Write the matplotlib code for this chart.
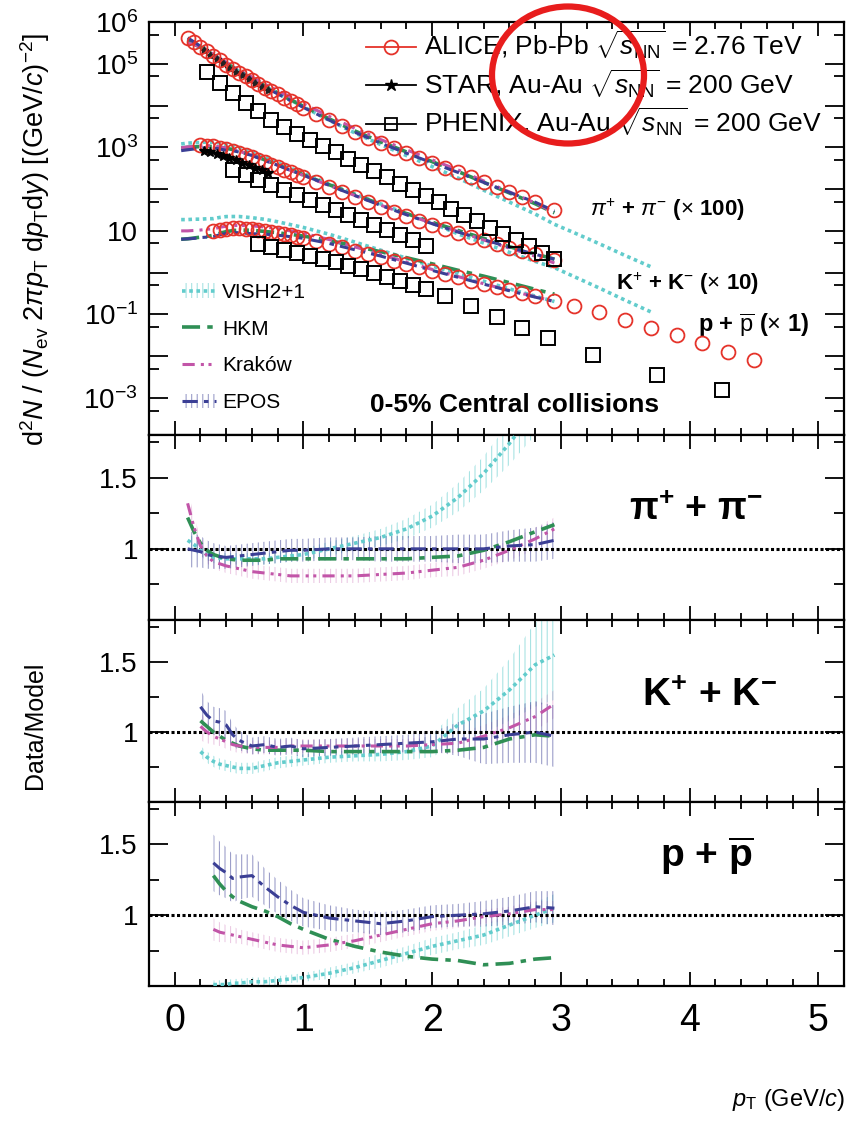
import numpy as np
import matplotlib
matplotlib.use("Agg")
import matplotlib.pyplot as plt
from matplotlib.lines import Line2D
from matplotlib.patches import Ellipse, Patch

plt.rcParams['font.family'] = ['Liberation Sans', 'DejaVu Sans']
plt.rcParams['mathtext.fontset'] = 'custom'
plt.rcParams['mathtext.rm'] = 'Liberation Sans'
plt.rcParams['mathtext.it'] = 'Liberation Sans:italic'
plt.rcParams['mathtext.bf'] = 'Liberation Sans:bold'
plt.rcParams['hatch.linewidth'] = 0.8

# ---------------- spectra (log10 of the plotted yield) ----------------
# ALICE Pb-Pb 2.76 TeV, pi (x100)
pi_pt = [0.1, 0.15, 0.2, 0.25, 0.3, 0.35, 0.4, 0.45, 0.5, 0.55, 0.6, 0.65, 0.7, 0.75,
         0.8, 0.85, 0.9, 0.95, 1.0, 1.1, 1.2, 1.3, 1.4, 1.5, 1.6, 1.7, 1.8, 1.9, 2.0,
         2.1, 2.2, 2.3, 2.4, 2.5, 2.6, 2.7, 2.8, 2.95]
pi_alice = [5.62, 5.52, 5.41, 5.30, 5.19, 5.08, 4.98, 4.88, 4.79, 4.70, 4.61, 4.52, 4.43, 4.35,
            4.27, 4.19, 4.11, 4.03, 3.95, 3.80, 3.65, 3.50, 3.36, 3.23, 3.10, 2.98, 2.86, 2.74, 2.63,
            2.51, 2.40, 2.28, 2.16, 2.05, 1.93, 1.82, 1.70, 1.50]
# kaons (x10)
k_pt = [0.2, 0.25, 0.3, 0.35, 0.4, 0.45, 0.5, 0.55, 0.6, 0.65, 0.7, 0.75, 0.8, 0.85, 0.9,
        0.95, 1.0, 1.1, 1.2, 1.3, 1.4, 1.5, 1.6, 1.7, 1.8, 1.9, 2.0, 2.1, 2.2, 2.3, 2.4,
        2.5, 2.6, 2.7, 2.8, 2.95]
k_alice = [3.05, 3.04, 3.02, 2.99, 2.95, 2.91, 2.86, 2.81, 2.76, 2.70, 2.64, 2.58, 2.52, 2.46, 2.40,
           2.34, 2.28, 2.16, 2.04, 1.92, 1.80, 1.68, 1.57, 1.46, 1.35, 1.24, 1.14, 1.04, 0.95, 0.86, 0.77,
           0.68, 0.60, 0.52, 0.44, 0.31]
# protons (x1)
p_pt = [0.3, 0.35, 0.4, 0.45, 0.5, 0.55, 0.6, 0.65, 0.7, 0.75, 0.8, 0.85, 0.9, 0.95, 1.0,
        1.1, 1.2, 1.3, 1.4, 1.5, 1.6, 1.7, 1.8, 1.9, 2.0, 2.1, 2.2, 2.3, 2.4, 2.5, 2.6,
        2.7, 2.8, 2.95, 3.1, 3.3, 3.5, 3.7, 3.9, 4.1, 4.3, 4.5]
p_alice = [1.00, 1.03, 1.05, 1.06, 1.06, 1.05, 1.04, 1.02, 1.00, 0.98, 0.95, 0.92, 0.89, 0.86, 0.83,
           0.76, 0.69, 0.61, 0.53, 0.45, 0.37, 0.29, 0.21, 0.13, 0.05, -0.03, -0.11, -0.19, -0.27, -0.35, -0.42,
           -0.49, -0.56, -0.67, -0.80, -0.95, -1.14, -1.33, -1.50, -1.69, -1.90, -2.10]

# STAR Au-Au 200 GeV
star_pt = [0.225, 0.275, 0.325, 0.375, 0.425, 0.475, 0.525, 0.575, 0.625, 0.675, 0.725]
star_pi = [5.33, 5.22, 5.11, 5.01, 4.91, 4.81, 4.72, 4.63, 4.54, 4.45, 4.37]
star_k = [2.92, 2.88, 2.84, 2.79, 2.74, 2.69, 2.63, 2.57, 2.51, 2.45, 2.39]

# PHENIX Au-Au 200 GeV
phx_pi_pt = [0.25, 0.35, 0.45, 0.55, 0.65, 0.75, 0.85, 0.95, 1.05, 1.15, 1.25, 1.35, 1.45, 1.55,
             1.65, 1.75, 1.85, 1.95, 2.05, 2.15, 2.25, 2.35, 2.45, 2.55, 2.65, 2.75, 2.85, 2.95]
phx_pi = [4.80, 4.55, 4.30, 4.07, 3.86, 3.66, 3.49, 3.33, 3.18, 3.03, 2.88, 2.73, 2.58, 2.43,
          2.28, 2.13, 1.98, 1.83, 1.68, 1.53, 1.38, 1.23, 1.08, 0.93, 0.78, 0.63, 0.48, 0.33]
phx_k_pt = [0.45, 0.55, 0.65, 0.75, 0.85, 0.95, 1.05, 1.15, 1.25, 1.35, 1.45, 1.55, 1.65, 1.75, 1.85, 1.95]
phx_k = [2.45, 2.33, 2.21, 2.09, 1.97, 1.85, 1.73, 1.61, 1.49, 1.37, 1.25, 1.13, 1.01, 0.89, 0.77, 0.65]
phx_p_pt = [0.65, 0.75, 0.85, 0.95, 1.05, 1.15, 1.25, 1.35, 1.45, 1.55, 1.65, 1.75, 1.85, 1.95,
            2.1, 2.3, 2.5, 2.7, 2.9, 3.25, 3.75, 4.25]
phx_p = [0.68, 0.62, 0.55, 0.48, 0.41, 0.33, 0.25, 0.17, 0.09, 0.0, -0.1, -0.2, -0.3, -0.4,
         -0.55, -0.8, -1.07, -1.33, -1.57, -1.98, -2.45, -2.81]

# ---------------- Data/Model ratios ----------------
models = ['VISH2+1', 'HKM', 'Krakow', 'EPOS']

pi_mpt = [0.1, 0.15, 0.2, 0.25, 0.3, 0.4, 0.5, 0.6, 0.7, 0.8, 0.9, 1.0, 1.2, 1.4, 1.6, 1.8,
          2.0, 2.2, 2.4, 2.6, 2.8, 2.95]
pi_vish = [1.06, 1.03, 0.99, 0.96, 0.94, 0.93, 0.93, 0.93, 0.93, 0.94, 0.95, 0.96, 1.0, 1.04, 1.08, 1.14,
           1.23, 1.36, 1.53, 1.74, 1.98, 2.2]
pi_hkm = [1.22, 1.12, 1.04, 0.99, 0.96, 0.93, 0.92, 0.92, 0.92, 0.93, 0.93, 0.93, 0.93, 0.93, 0.93, 0.93,
          0.94, 0.95, 0.99, 1.05, 1.12, 1.17]
pi_krakow = [1.32, 1.15, 1.02, 0.95, 0.91, 0.88, 0.86, 0.84, 0.83, 0.82, 0.81, 0.81, 0.81, 0.81, 0.82, 0.83,
             0.85, 0.87, 0.92, 0.99, 1.07, 1.14]
pi_epos = [1.0, 0.99, 0.98, 0.96, 0.95, 0.94, 0.95, 0.96, 0.97, 0.98, 0.99, 0.99, 1.0, 1.0, 1.0, 1.0,
           1.0, 1.0, 1.0, 1.02, 1.03, 1.06]
pi_epos_err = [0.13, 0.12, 0.11, 0.1, 0.09, 0.08, 0.08, 0.08, 0.08, 0.08, 0.08, 0.08, 0.08, 0.08, 0.09, 0.09,
               0.09, 0.1, 0.1, 0.11, 0.12, 0.13]
pi_vish_err = [0.05, 0.05, 0.04, 0.04, 0.04, 0.04, 0.04, 0.04, 0.04, 0.04, 0.04, 0.04, 0.05, 0.05, 0.06, 0.07,
               0.08, 0.1, 0.12, 0.15, 0.18, 0.2]
pi_krakow_err = [0.1, 0.08, 0.06, 0.05, 0.05, 0.05, 0.05, 0.05, 0.05, 0.05, 0.05, 0.05, 0.05, 0.05, 0.05, 0.05,
                 0.05, 0.06, 0.06, 0.07, 0.08, 0.08]

k_mpt = [0.2, 0.25, 0.3, 0.35, 0.4, 0.45, 0.5, 0.6, 0.7, 0.8, 0.9, 1.0, 1.2, 1.4, 1.6, 1.8,
         2.0, 2.2, 2.4, 2.6, 2.8, 2.95]
k_vish = [0.86, 0.82, 0.79, 0.77, 0.76, 0.75, 0.74, 0.74, 0.76, 0.78, 0.79, 0.80, 0.82, 0.83, 0.84, 0.86,
          0.90, 1.05, 1.15, 1.30, 1.48, 1.55]
k_hkm = [1.08, 1.04, 1.0, 0.97, 0.94, 0.92, 0.90, 0.88, 0.87, 0.87, 0.87, 0.87, 0.86, 0.86, 0.86, 0.86,
         0.86, 0.87, 0.89, 0.95, 0.98, 0.97]
k_krakow = [1.04, 1.0, 0.97, 0.95, 0.93, 0.91, 0.90, 0.89, 0.89, 0.89, 0.90, 0.90, 0.90, 0.90, 0.90, 0.90,
            0.91, 0.92, 0.97, 1.03, 1.11, 1.2]
k_epos = [1.18, 1.12, 1.08, 1.07, 1.05, 0.98, 0.94, 0.90, 0.91, 0.89, 0.90, 0.88, 0.89, 0.90, 0.91, 0.92,
          0.93, 0.95, 0.95, 0.98, 1.0, 0.97]
k_epos_err = [0.12, 0.1, 0.1, 0.1, 0.1, 0.08, 0.07, 0.06, 0.06, 0.06, 0.06, 0.06, 0.06, 0.06, 0.06, 0.06,
              0.07, 0.12, 0.18, 0.2, 0.22, 0.22]
k_vish_err = [0.04, 0.04, 0.04, 0.04, 0.04, 0.04, 0.04, 0.04, 0.04, 0.04, 0.04, 0.04, 0.04, 0.04, 0.05, 0.06,
              0.08, 0.12, 0.16, 0.22, 0.3, 0.32]
k_krakow_err = [0.1, 0.08, 0.06, 0.05, 0.05, 0.05, 0.05, 0.05, 0.05, 0.05, 0.05, 0.05, 0.05, 0.05, 0.05, 0.05,
                0.06, 0.07, 0.08, 0.09, 0.1, 0.1]

p_mpt = [0.3, 0.35, 0.4, 0.45, 0.5, 0.6, 0.7, 0.8, 0.9, 1.0, 1.2, 1.4, 1.6, 1.8, 2.0, 2.2,
         2.4, 2.6, 2.8, 2.95]
p_vish = [0.51, 0.51, 0.51, 0.52, 0.52, 0.53, 0.53, 0.54, 0.55, 0.56, 0.59, 0.63, 0.68, 0.73, 0.78, 0.82,
          0.86, 0.93, 1.0, 1.05]
p_hkm = [1.28, 1.22, 1.17, 1.13, 1.1, 1.06, 1.03, 0.99, 0.94, 0.9, 0.83, 0.78, 0.74, 0.71, 0.69, 0.68,
         0.65, 0.66, 0.69, 0.70]
p_krakow = [0.9, 0.88, 0.87, 0.86, 0.85, 0.83, 0.81, 0.79, 0.78, 0.77, 0.79, 0.82, 0.86, 0.9, 0.94, 0.96,
            0.99, 1.01, 1.04, 1.04]
p_epos = [1.37, 1.33, 1.3, 1.26, 1.27, 1.28, 1.2, 1.13, 1.07, 1.02, 0.98, 0.96, 0.94, 0.96, 0.99, 1.0,
          1.01, 1.03, 1.06, 1.05]
p_epos_err = [0.2, 0.19, 0.18, 0.17, 0.16, 0.15, 0.13, 0.12, 0.11, 0.1, 0.09, 0.08, 0.08, 0.08, 0.08, 0.08,
              0.09, 0.1, 0.11, 0.12]
p_vish_err = [0.03, 0.03, 0.03, 0.03, 0.03, 0.03, 0.03, 0.03, 0.03, 0.03, 0.04, 0.04, 0.05, 0.05, 0.06, 0.06,
              0.07, 0.08, 0.09, 0.1]
p_krakow_err = [0.08, 0.07, 0.06, 0.06, 0.05, 0.05, 0.05, 0.05, 0.05, 0.05, 0.05, 0.05, 0.05, 0.05, 0.05, 0.05,
                0.05, 0.05, 0.06, 0.06]

# model curves outside the data range (top panel, log10)
k_low_pt = [0.05, 0.1, 0.15]
k_low = {'VISH2+1': [3.08, 3.10, 3.11], 'HKM': [2.98, 3.0, 3.01],
         'Krakow': [2.99, 3.01, 3.02], 'EPOS': [2.92, 2.94, 2.96]}
p_low_pt = [0.05, 0.1, 0.15, 0.2, 0.25]
p_low = {'VISH2+1': [1.27, 1.27, 1.28, 1.28, 1.29], 'HKM': [0.80, 0.81, 0.83, 0.85, 0.87],
         'Krakow': [1.0, 1.0, 1.01, 1.02, 1.04], 'EPOS': [0.80, 0.81, 0.82, 0.84, 0.85]}
vish_tail_pt = [3.1, 3.3, 3.5, 3.7]
pi_vish_tail = [0.96, 0.69, 0.41, 0.14]
k_vish_tail = [-0.09, -0.37, -0.66, -0.94]

# ---------------- styles ----------------
col = {'VISH2+1': '#62cccc', 'HKM': '#2f8f55', 'Krakow': '#c255a8', 'EPOS': '#3b3f95'}
sty = {'VISH2+1': (0, (1, 1)), 'HKM': (0, (5, 2, 1.5, 2)),
       'Krakow': (0, (4, 2, 1, 1.5, 1, 2)), 'EPOS': (0, (5, 2, 1.5, 2))}
lws = {'VISH2+1': 2.6, 'HKM': 2.6, 'Krakow': 2.2, 'EPOS': 2.2}
band_alpha = {'VISH2+1': 0.55, 'Krakow': 0.3, 'EPOS': 0.5}
red = '#e5332a'


def dex(v):
    return 10.0 ** np.asarray(v, dtype=float)


fig = plt.figure(figsize=(8.5, 11.23), dpi=100)
L, W = 149 / 850, 695 / 850
H = 1123.0
ax0 = fig.add_axes([L, 1 - 435 / H, W, 413 / H])
ax1 = fig.add_axes([L, 1 - 620 / H, W, 185 / H])
ax2 = fig.add_axes([L, 1 - 802 / H, W, 182 / H])
ax3 = fig.add_axes([L, 1 - 986 / H, W, 184 / H])

species = [
    (pi_pt, pi_alice, pi_mpt, {'VISH2+1': pi_vish, 'HKM': pi_hkm, 'Krakow': pi_krakow, 'EPOS': pi_epos},
     {'VISH2+1': pi_vish_err, 'Krakow': pi_krakow_err, 'EPOS': pi_epos_err}, None, None, pi_vish_tail, ax1),
    (k_pt, k_alice, k_mpt, {'VISH2+1': k_vish, 'HKM': k_hkm, 'Krakow': k_krakow, 'EPOS': k_epos},
     {'VISH2+1': k_vish_err, 'Krakow': k_krakow_err, 'EPOS': k_epos_err}, k_low_pt, k_low, k_vish_tail, ax2),
    (p_pt, p_alice, p_mpt, {'VISH2+1': p_vish, 'HKM': p_hkm, 'Krakow': p_krakow, 'EPOS': p_epos},
     {'VISH2+1': p_vish_err, 'Krakow': p_krakow_err, 'EPOS': p_epos_err}, p_low_pt, p_low, None, ax3),
]

for pt, ydat, mpt, ratios, errs, lowpt, low, tail, rax in species:
    pt = np.asarray(pt)
    mpt = np.asarray(mpt)
    sel = np.isin(np.round(pt, 3), np.round(mpt, 3))
    dat_at = dex(ydat)[sel]
    for m in models:
        r = np.asarray(ratios[m])
        xs, ys = list(mpt), list(dat_at / r)
        if lowpt is not None:
            xs = list(lowpt) + xs
            ys = list(dex(low[m])) + ys
        if tail is not None and m == 'VISH2+1':
            xs = xs + list(vish_tail_pt)
            ys = ys + list(dex(tail))
        ax0.plot(xs, ys, color=col[m], ls=sty[m], lw=lws[m], zorder=2)
        # ratio panel: hatched model uncertainty + central curve
        if m in errs:
            e = np.asarray(errs[m])
            rax.fill_between(mpt, r - e, r + e, facecolor='none', edgecolor=col[m], hatch='|||',
                             lw=0, alpha=band_alpha[m], zorder=1)
        rax.plot(mpt, r, color=col[m], ls=sty[m], lw=lws[m], zorder=3)
    ax0.plot(pt, dex(ydat), ls='none', marker='o', ms=10, mfc='none', mec=red, mew=1.3, zorder=4)

ax0.plot(star_pt, dex(star_pi), ls='none', marker='*', ms=6, color='#222222', zorder=3.5)
ax0.plot(star_pt, dex(star_k), ls='none', marker='*', ms=7, color='k', zorder=5)
for xx, yy in [(phx_pi_pt, phx_pi), (phx_k_pt, phx_k), (phx_p_pt, phx_p)]:
    ax0.plot(xx, dex(yy), ls='none', marker='s', ms=10, mfc='none', mec='k', mew=1.4, zorder=5)

# ---------------- axes cosmetics ----------------
for ax in (ax0, ax1, ax2, ax3):
    ax.set_xlim(-0.2, 5.2)
    ax.set_xticks([0, 1, 2, 3, 4, 5])
    ax.set_xticks(np.arange(-0.2, 5.21, 0.2), minor=True)
    ax.tick_params(axis='both', which='both', direction='in', top=True, right=True, width=1.3)
    ax.tick_params(axis='x', which='major', length=10)
    ax.tick_params(axis='x', which='minor', length=5)
    ax.tick_params(axis='y', which='major', length=14, labelsize=20, pad=8)
    ax.tick_params(axis='y', which='minor', length=7)
    for s in ax.spines.values():
        s.set_linewidth(1.6)
    if ax is not ax3:
        ax.tick_params(axis='x', labelbottom=False)

ax3.tick_params(axis='x', labelsize=27, pad=12)

ax0.set_yscale('log')
ax0.set_ylim(1.3e-4, 1e6)
dec = [1e-3, 1e-2, 1e-1, 1, 10, 1e2, 1e3, 1e4, 1e5, 1e6]
declab = [r'$10^{-3}$', '', r'$10^{-1}$', '', '10', '', r'$10^{3}$', '', r'$10^{5}$', r'$10^{6}$']
ax0.set_yticks(dec)
ax0.set_yticklabels(declab)
ax0.set_yticks([5e-4, 5e-3, 5e-2, 0.5, 5, 50, 5e2, 5e3, 5e4, 5e5], minor=True)
ax0.yaxis.set_minor_formatter(plt.NullFormatter())

for ax in (ax1, ax2, ax3):
    ax.set_ylim(0.5, 1.8)
    ax.set_yticks([0.5, 1.0, 1.5])
    ax.set_yticklabels(['', '1', '1.5'])
    ax.set_yticks([0.75, 1.25, 1.75], minor=True)
    ax.axhline(1.0, color='k', ls=(0, (1, 0.8)), lw=2.2, zorder=2.5)

# ---------------- labels and text ----------------
ax0.text(0.635, 0.545, r'$\pi^{+}$ + $\pi^{-}$ ($\times$ 100)', transform=ax0.transAxes,
         fontsize=16, fontweight='bold', va='center')
ax0.text(0.672, 0.367, r'K$^{+}$ + K$^{-}$ ($\times$ 10)', transform=ax0.transAxes,
         fontsize=16, fontweight='bold', va='center')
ax0.text(0.79, 0.265, r'p + $\overline{\rm p}$ ($\times$ 1)', transform=ax0.transAxes,
         fontsize=17, fontweight='bold', va='center')
ax0.text(0.318, 0.072, '0-5% Central collisions', transform=ax0.transAxes,
         fontsize=19, fontweight='bold', va='center')

ax1.text(0.786, 0.595, r'$\mathbf{\pi^{+}}$ + $\mathbf{\pi^{-}}$', transform=ax1.transAxes,
         fontsize=27, fontweight='bold', ha='center', va='center')
ax2.text(0.807, 0.58, r'K$^{\mathbf{+}}$ + K$^{\mathbf{-}}$', transform=ax2.transAxes,
         fontsize=28, fontweight='bold', ha='center', va='center')
ax3.text(0.803, 0.71, r'p + $\overline{\mathbf{p}}$', transform=ax3.transAxes,
         fontsize=28, fontweight='bold', ha='center', va='center')

exp_handles = [
    Line2D([], [], color=red, marker='o', mfc='none', mec=red, ms=10, mew=1.3, lw=1.3),
    Line2D([], [], color='k', marker='*', ms=9, lw=1.3),
    Line2D([], [], color='k', marker='s', mfc='none', mec='k', ms=9, mew=1.3, lw=1.3),
]
exp_labels = [r'ALICE, Pb-Pb $\sqrt{s_{\rm NN}}$ = 2.76 TeV',
              r'STAR, Au-Au $\sqrt{s_{\rm NN}}$ = 200 GeV',
              r'PHENIX, Au-Au $\sqrt{s_{\rm NN}}$ = 200 GeV']
leg1 = ax0.legend(exp_handles, exp_labels, loc='upper left', bbox_to_anchor=(0.305, 0.995),
                  frameon=False, fontsize=19, handlelength=1.9, handletextpad=0.3,
                  labelspacing=0.2, borderaxespad=0, borderpad=0.2, numpoints=1)
ax0.add_artist(leg1)

mod_handles = []
for m in models:
    ln = Line2D([], [], color=col[m], ls=sty[m], lw=lws[m])
    if m in ('VISH2+1', 'EPOS'):
        bars = Patch(facecolor='none', edgecolor=col[m], hatch='|||', lw=0, alpha=band_alpha[m])
        mod_handles.append((bars, ln))
    else:
        mod_handles.append(ln)
ax0.legend(mod_handles, ['VISH2+1', 'HKM', 'Kraków', 'EPOS'], loc='upper left',
           bbox_to_anchor=(0.045, 0.373), frameon=False, fontsize=15, handlelength=1.6,
           handletextpad=0.3, labelspacing=0.85, borderaxespad=0, borderpad=0.1)

fig.text(35 / 850, 1 - 240 / H,
         r'd$^{2}$$N$ / ($N_{\rm ev}$ 2$\pi$$p_{\rm T}$ d$p_{\rm T}$d$y$) [(GeV/$c$)$^{-2}$]',
         rotation=90, ha='center', va='center', fontsize=19.5)
fig.text(35 / 850, 1 - 725 / H, 'Data/Model', rotation=90, ha='center', va='center', fontsize=18)
fig.text(845 / 850, 1 - 1100 / H, r'$p_{\rm T}$ (GeV/$c$)', ha='right', va='center', fontsize=17)

# highlight circle drawn over the legend
fig.add_artist(Ellipse((568 / 850, 1 - 75 / H), 152 / 850, 137 / H, transform=fig.transFigure,
                       fill=False, ec='#e81d1d', lw=4.5, zorder=10))

fig.savefig('out.png', dpi=100)
